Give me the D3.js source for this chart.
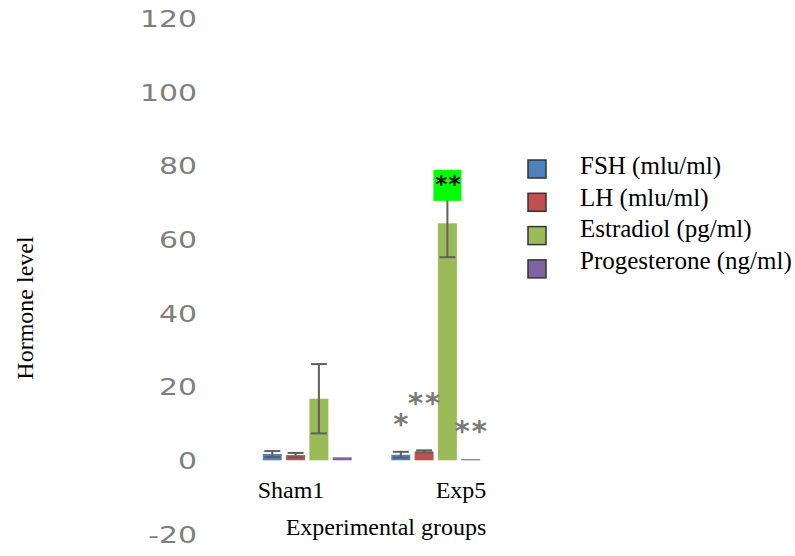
<!DOCTYPE html>
<html>
<head>
<meta charset="utf-8">
<script src="https://cdn.jsdelivr.net/npm/d3@7"></script>
<style>
  body { margin: 0; background: #fff; }
  svg { display: block; }
</style>
</head>
<body>
<svg id="chart" width="795" height="556"></svg>
<script>
// groups, hormones and values
var groups = ["Sham1", "Exp5"];
var hormones = ["FSH (mlu/ml)", "LH (mlu/ml)", "Estradiol (pg/ml)", "Progesterone (ng/ml)"];
var colors = ["#4f81bd", "#c0504d", "#9bbb59", "#8064a2"];

var sham1Means = [1.7, 1.4, 16.7, 0.8];
var sham1Errors = [0.8, 0.6, 9.4, 0];
var exp5Means = [1.5, 2.4, 64.3, 0.3];
var exp5Errors = [0.8, 0.3, 9.2, 0];

var yTicks = [-20, 0, 20, 40, 60, 80, 100, 120];

// significance marks: group, hormone index, label, value where they sit
var marks = [
  { group: "Exp5", h: 0, label: "*", value: 10.8 },
  { group: "Exp5", h: 1, label: "**", value: 16.4 },
  { group: "Exp5", h: 3, label: "**", value: 9.0 }
];
// highlighted mark on top of the Exp5 estradiol bar
var boxMark = { group: "Exp5", h: 2, label: "**", top: 78.8, bottom: 70.4 };

var rows = [];
groups.forEach(function(g, gi) {
  var means = gi === 0 ? sham1Means : exp5Means;
  var errs = gi === 0 ? sham1Errors : exp5Errors;
  hormones.forEach(function(h, hi) {
    rows.push({ group: g, h: hi, value: means[hi], err: errs[hi] });
  });
});

var svg = d3.select("#chart");

var y = d3.scaleLinear().domain([-20, 120]).range([534, 18]);
var x0 = d3.scaleBand().domain(groups).range([243, 500]);
var x1 = d3.scaleBand().domain(d3.range(hormones.length))
    .range([0, x0.bandwidth()]).paddingInner(0.185).paddingOuter(0.85);
var xLabel = d3.scalePoint().domain(groups).range([291, 461]);

function cx(g, h) { return x0(g) + x1(h) + x1.bandwidth() / 2; }

// y axis: labels only, stretched like the original
var yAxis = svg.append("g")
    .attr("transform", "translate(197,0)")
    .call(d3.axisLeft(y).tickValues(yTicks).tickSize(0).tickPadding(0)
      .tickFormat(function(d) { return String(d); }));
yAxis.select(".domain").remove();
yAxis.selectAll("text")
    .attr("x", 0)
    .attr("dy", "0.36em")
    .attr("transform", "scale(1.3,1)")
    .style("font-family", "DejaVu Sans, sans-serif")
    .style("font-size", "23px")
    .style("fill", "#7f7f7f");

// bars
svg.append("g").selectAll("rect")
  .data(rows)
  .join("rect")
    .attr("x", function(d) { return x0(d.group) + x1(d.h); })
    .attr("width", x1.bandwidth())
    .attr("y", function(d) { return y(d.value); })
    .attr("height", function(d) { return y(0) - y(d.value); })
    .attr("fill", function(d) { return colors[d.h]; });

// error bars
var eb = svg.append("g")
    .attr("stroke", "#5f5f5f")
    .attr("stroke-width", 2)
  .selectAll("g")
  .data(rows.filter(function(d) { return d.err > 0; }))
  .join("g");
eb.append("line")
    .attr("x1", function(d) { return cx(d.group, d.h); })
    .attr("x2", function(d) { return cx(d.group, d.h); })
    .attr("y1", function(d) { return y(d.value - d.err); })
    .attr("y2", function(d) { return y(d.value + d.err); });
[1, -1].forEach(function(s) {
  eb.append("line")
      .attr("x1", function(d) { return cx(d.group, d.h) - 8; })
      .attr("x2", function(d) { return cx(d.group, d.h) + 8; })
      .attr("y1", function(d) { return y(d.value + s * d.err); })
      .attr("y2", function(d) { return y(d.value + s * d.err); });
});

// gray significance asterisks
svg.append("g").selectAll("text")
  .data(marks)
  .join("text")
    .attr("x", function(d) { return cx(d.group, d.h) + 1; })
    .attr("y", function(d) { return y(d.value); })
    .attr("text-anchor", "middle")
    .attr("dy", "0.47em")
    .style("font-family", "DejaVu Sans, sans-serif")
    .style("font-weight", "bold")
    .style("font-size", "29px")
    .style("letter-spacing", "2px")
    .style("fill", "#7a7a7a")
    .text(function(d) { return d.label; });

// green box mark
var bx = cx(boxMark.group, boxMark.h);
svg.append("rect")
    .attr("x", bx - 14)
    .attr("width", 28)
    .attr("y", y(boxMark.top))
    .attr("height", y(boxMark.bottom) - y(boxMark.top))
    .attr("fill", "#00ff00");
svg.append("text")
    .attr("x", bx + 1)
    .attr("y", y(boxMark.top))
    .attr("dy", "0.95em")
    .attr("text-anchor", "middle")
    .style("font-family", "DejaVu Sans, sans-serif")
    .style("font-weight", "bold")
    .style("font-size", "23px")
    .style("letter-spacing", "1px")
    .style("fill", "#000")
    .text(boxMark.label);

// category labels
svg.append("g").selectAll("text")
  .data(groups)
  .join("text")
    .attr("x", function(d) { return xLabel(d); })
    .attr("y", 498)
    .attr("text-anchor", "middle")
    .style("font-family", "Liberation Serif, Times New Roman, serif")
    .style("font-size", "24px")
    .style("fill", "#000")
    .text(function(d) { return d; });

// axis titles
svg.append("text")
    .attr("x", 386)
    .attr("y", 535)
    .attr("text-anchor", "middle")
    .style("font-family", "Liberation Serif, Times New Roman, serif")
    .style("font-size", "24px")
    .text("Experimental groups");

svg.append("text")
    .attr("transform", "translate(33,308) rotate(-90)")
    .attr("text-anchor", "middle")
    .style("font-family", "Liberation Serif, Times New Roman, serif")
    .style("font-size", "24px")
    .text("Hormone level");

// legend
var legend = svg.append("g").selectAll("g")
  .data(hormones)
  .join("g");
legend.append("rect")
    .attr("x", 528)
    .attr("y", function(d, i) { return 160 + i * 33.3; })
    .attr("width", 18)
    .attr("height", 18)
    .attr("fill", function(d, i) { return colors[i]; })
    .attr("stroke", "#333")
    .attr("stroke-width", 1.5);
legend.append("text")
    .attr("x", 580)
    .attr("y", function(d, i) { return 174 + i * 31.5; })
    .style("font-family", "Liberation Serif, Times New Roman, serif")
    .style("font-size", "25px")
    .style("fill", "#000")
    .text(function(d) { return d; });
</script>
</body>
</html>
